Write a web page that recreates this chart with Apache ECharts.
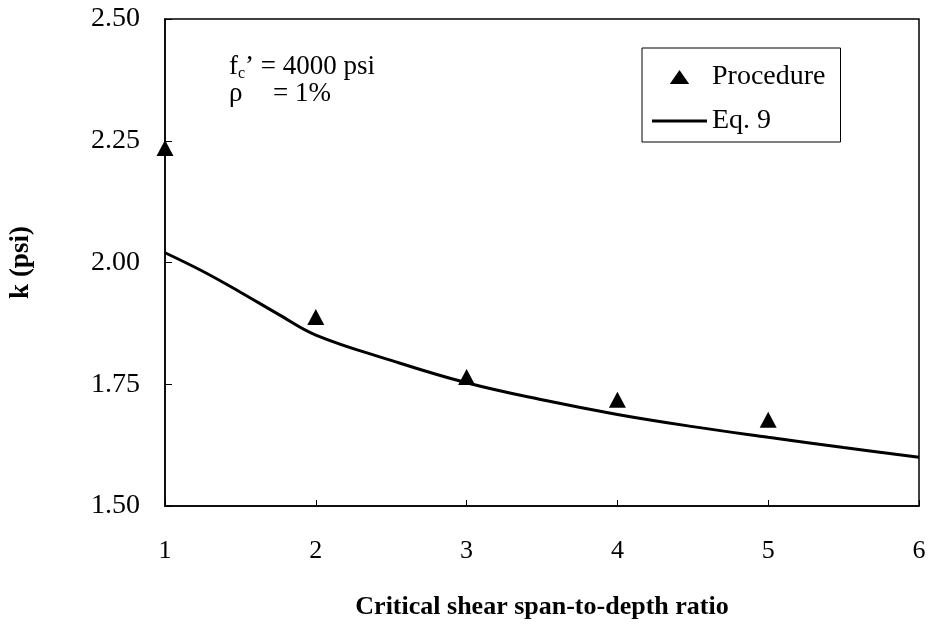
<!DOCTYPE html>
<html>
<head>
<meta charset="utf-8">
<script src="https://cdn.jsdelivr.net/npm/echarts@6/dist/echarts.min.js"></script>
<style>html,body{margin:0;padding:0;background:#fff}#c{width:930px;height:634px}</style>
</head>
<body>
<div id="c"></div>
<script>
// Data
const xTicks = [1, 2, 3, 4, 5, 6];
const yTickLabels = ['1.50', '1.75', '2.00', '2.25', '2.50'];
const procedureX = [1, 2, 3, 4, 5];
const procedureK = [2.235, 1.888, 1.765, 1.718, 1.677];
const eq9X = [1, 1.25, 1.5, 1.75, 2, 2.5, 3, 3.5, 4, 4.5, 5, 5.5, 6];
const eq9K = [2.02, 1.982, 1.939, 1.894, 1.851, 1.799, 1.753, 1.718, 1.688, 1.663, 1.641, 1.62, 1.60];

const FONT = '"Liberation Serif", "Times New Roman", serif';
const chart = echarts.init(document.getElementById('c'), null, {renderer: 'canvas'});

chart.setOption({
  backgroundColor: '#ffffff',
  animation: false,
  grid: {
    left: 165, top: 19, right: 11, bottom: 128,
    show: true, borderColor: '#000', borderWidth: 1.5, backgroundColor: 'transparent'
  },
  xAxis: {
    type: 'value', min: xTicks[0], max: xTicks[xTicks.length - 1], interval: 1,
    name: 'Critical shear span-to-depth ratio',
    nameLocation: 'middle', nameGap: 88,
    nameTextStyle: {fontFamily: FONT, fontWeight: 'bold', fontSize: 26, color: '#000'},
    axisLine: {show: true, lineStyle: {color: '#000', width: 1.5}},
    axisTick: {show: true, inside: true, length: 6, lineStyle: {color: '#000', width: 1}},
    axisLabel: {fontFamily: FONT, fontSize: 26, color: '#000', margin: 32, lineHeight: 26},
    splitLine: {show: false}
  },
  yAxis: {
    type: 'value', min: 1.5, max: 2.5, interval: 0.25,
    name: 'k (psi)',
    nameLocation: 'middle', nameGap: 130,
    nameTextStyle: {fontFamily: FONT, fontWeight: 'bold', fontSize: 27, color: '#000'},
    axisLine: {show: true, lineStyle: {color: '#000', width: 1.5}},
    axisTick: {show: true, inside: true, length: 7, lineStyle: {color: '#000', width: 1}},
    axisLabel: {
      fontFamily: FONT, fontSize: 28, color: '#000', margin: 25,
      formatter: function (v) { return yTickLabels.find(function (t) { return Math.abs(parseFloat(t) - v) < 1e-6; }) || v.toFixed(2); }
    },
    splitLine: {show: false}
  },
  legend: {
    orient: 'vertical', left: 642, top: 48,
    padding: [15, 15, 7, 10],
    itemWidth: 55, itemHeight: 14, itemGap: 16,
    borderColor: '#000', borderWidth: 1, backgroundColor: '#fff',
    textStyle: {fontFamily: FONT, fontSize: 28, color: '#000', lineHeight: 28},
    data: [
      {name: 'Procedure', icon: 'path://M0,0L9,13L-9,13Z', itemStyle: {color: '#000', opacity: 1}},
      {name: 'Eq. 9', icon: 'path://M0,0L55,0L55,3L0,3Z', itemStyle: {color: '#000', opacity: 1}}
    ]
  },
  graphic: [
    {
      type: 'text', left: 229, top: 53,
      style: {
        text: '{m|f}{s|c}{m|’ = 4000 psi}',
        rich: {
          m: {fontFamily: FONT, fontSize: 27, fill: '#000', lineHeight: 30},
          s: {fontFamily: FONT, fontSize: 16, fill: '#000', lineHeight: 30, verticalAlign: 'bottom', padding: [13, 0, 0, 0]}
        }
      }
    },
    {type: 'text', left: 229, top: 80, style: {text: 'ρ', fontFamily: FONT, fontSize: 27, fill: '#000'}},
    {type: 'text', left: 273, top: 80, style: {text: '= 1%', fontFamily: FONT, fontSize: 27, fill: '#000'}}
  ],
  series: [
    {
      name: 'Procedure', type: 'scatter', symbol: 'triangle', symbolSize: [17, 16],
      itemStyle: {color: '#000', opacity: 1}, z: 5,
      data: procedureX.map(function (x, i) { return [x, procedureK[i]]; })
    },
    {
      name: 'Eq. 9', type: 'line', smooth: 0.4, symbol: 'none',
      lineStyle: {color: '#000', width: 3}, itemStyle: {color: '#000'},
      data: eq9X.map(function (x, i) { return [x, eq9K[i]]; })
    }
  ]
});
</script>
</body>
</html>
